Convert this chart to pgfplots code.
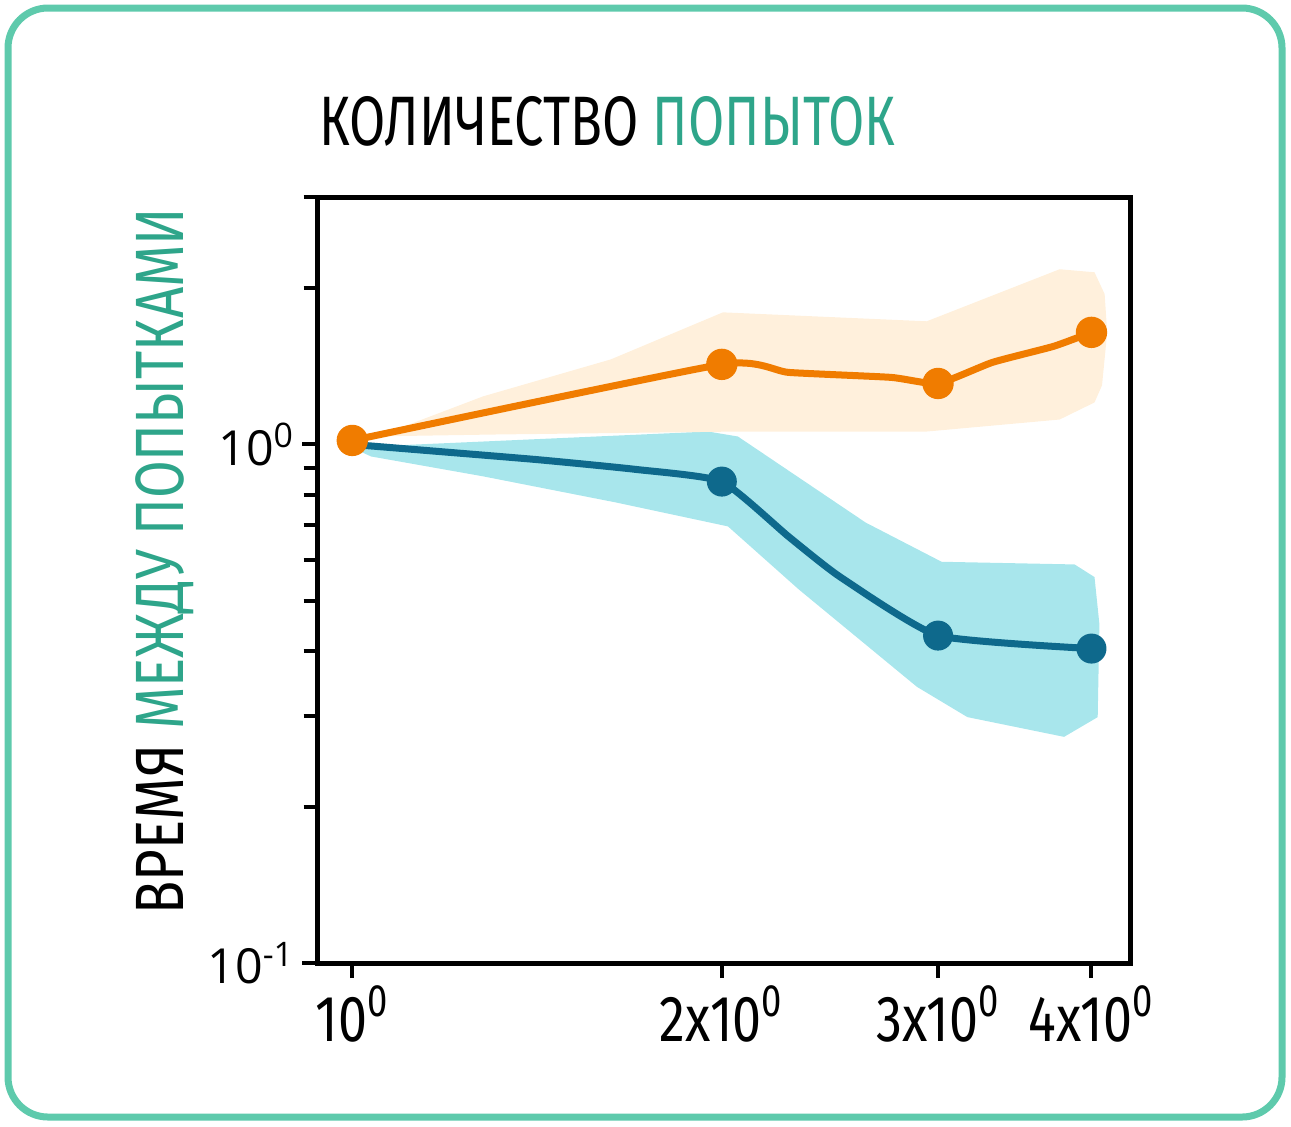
\documentclass[border=0pt]{standalone}
\usepackage{pgfplots}
\pgfplotsset{compat=1.18}
\usepackage{fontspec}
\setmainfont{Fira Sans}[FakeStretch=0.75]
\newfontfamily\ylabfont{Fira Sans}[FakeStretch=0.80]
\newfontfamily\xtickfont{Fira Sans}[FakeStretch=0.80]
\newfontfamily\tickfont{Open Sans}
\definecolor{tealtxt}{RGB}{46,165,138}
\definecolor{bordercol}{RGB}{94,202,172}
\definecolor{orline}{RGB}{240,124,0}
\definecolor{orfill}{RGB}{255,240,220}
\definecolor{blline}{RGB}{14,105,140}
\definecolor{blfill}{RGB}{168,230,236}
\begin{document}
\begin{tikzpicture}
\path[use as bounding box] (0pt,0pt) rectangle (387.3pt,-337.8pt);
\draw[bordercol, line width=2.1pt, rounded corners=12pt] (2.4pt,-2.4pt) rectangle (384.6pt,-335.1pt);
\node[anchor=base, inner sep=0pt, font=\fontsize{21}{25}\selectfont] at (182.2pt,-43.5pt) {КОЛИЧЕСТВО \textcolor{tealtxt}{ПОПЫТОК}};
\node[anchor=base, inner sep=0pt, rotate=90, font=\ylabfont\fontsize{20.5}{24}\selectfont] at (54.9pt,-168.3pt) {ВРЕМЯ \textcolor{tealtxt}{МЕЖДУ ПОПЫТКАМИ}};
\begin{axis}[
  at={(95.1pt,-288.9pt)}, anchor=south west,
  scale only axis, width=243.9pt, height=229.8pt,
  xmode=log, ymode=log,
  xmin=0.936, xmax=4.30, ymin=0.1, ymax=3.0,
  axis line style={line width=1.5pt, black},
  tick align=outside,
  xtick pos=bottom, ytick pos=left,
  major tick length=4.5pt, minor tick length=4pt,
  every tick/.style={black, line width=1.2pt},
  xtick={1,2,3,4},
  xticklabels={10\textsuperscript{0},2x10\textsuperscript{0},3x10\textsuperscript{0},4x10\textsuperscript{0}},
  minor xtick={},
  ytick={0.1,1},
  yticklabels={10\textsuperscript{-1},10\textsuperscript{0}},
  minor ytick={0.2,0.3,0.4,0.5,0.6,0.7,0.8,0.9,2,3},
  xticklabel style={font=\xtickfont\fontsize{19.5}{22}\selectfont, inner sep=2pt},
  yticklabel style={font=\tickfont\fontsize{14.5}{17}\selectfont, inner sep=2pt},
  clip=false,
]
% blue band
\addplot[draw=none, fill=blfill] coordinates {
 (1.0,1.0) (1.036,0.991) (1.949,1.059) (2.061,1.036) (2.619,0.707) (3.02,0.594)
 (3.876,0.587) (4.023,0.555) (4.06,0.45) (4.047,0.298) (3.80,0.273) (3.17,0.298)
 (2.883,0.341) (2.311,0.525) (2.023,0.695) (1.64,0.773) (1.278,0.868) (1.036,0.948) (1.0,0.985)
} -- cycle;
% orange band
\addplot[draw=none, fill=orfill] coordinates {
 (1.0,1.0) (1.036,1.025) (1.278,1.238) (1.624,1.459) (2.004,1.798) (2.937,1.728)
 (3.768,2.177) (4.023,2.148) (4.10,1.95) (4.12,1.644) (4.08,1.30) (4.023,1.205) (3.768,1.117)
 (2.937,1.059) (2.061,1.059) (1.3,1.045) (1.036,1.036) (1.0,1.01)
} -- cycle;
% blue line
\addplot[blline, line width=2.1pt, smooth, tension=0.3] coordinates {
 (1.0,1.0) (1.406,0.936) (1.703,0.895) (2.0,0.848) (2.267,0.664) (2.495,0.556) (3.0,0.428) (4.0,0.404)
};
\addplot[only marks, mark=*, mark size=4.3pt, blline, mark options={draw=blline, fill=blline}] coordinates {
 (2.0,0.848) (3.0,0.428) (4.0,0.404)
};
% orange line
\addplot[orline, line width=2.1pt, smooth, tension=0.3] coordinates {
 (1.0,1.018) (2.0,1.427) (2.267,1.377) (2.746,1.347) (3.0,1.311) (3.323,1.44) (3.726,1.546) (4.0,1.645)
};
\addplot[only marks, mark=*, mark size=4.5pt, orline, mark options={draw=orline, fill=orline}] coordinates {
 (1.0,1.018) (2.0,1.427) (3.0,1.311) (4.0,1.645)
};
\end{axis}
\end{tikzpicture}
\end{document}
